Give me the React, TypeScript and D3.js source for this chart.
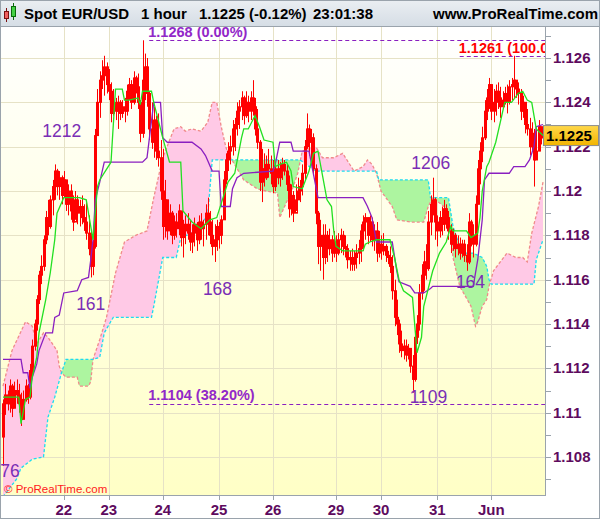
import * as d3 from "d3";

// hourly EUR/USD bars (open = previous close)
const firstOpen = 1.1089;
const highs = [
  1.1106, 1.1113, 1.111, 1.1115, 1.1113, 1.1114, 1.1115, 1.1113, 1.1109, 1.111,
  1.1115, 1.1113, 1.1122, 1.1133, 1.1142, 1.1153, 1.1164, 1.1171, 1.118, 1.1191,
  1.1196, 1.1198, 1.1205, 1.1212, 1.121, 1.1209, 1.1207, 1.1209, 1.1205, 1.1203,
  1.1203, 1.1198, 1.12, 1.1198, 1.1196, 1.1198, 1.1194, 1.1196, 1.1189, 1.1182,
  1.1178, 1.1228, 1.1246, 1.1254, 1.1259, 1.1261, 1.1258, 1.1255, 1.1249, 1.1246,
  1.1242, 1.1243, 1.1241, 1.1241, 1.1242, 1.1248, 1.1251, 1.125, 1.1254, 1.1252,
  1.1253, 1.1241, 1.1268, 1.1262, 1.126, 1.1245, 1.124, 1.1238, 1.1234, 1.1235,
  1.1223, 1.1219, 1.1205, 1.1196, 1.1194, 1.1191, 1.1189, 1.119, 1.1194, 1.1191,
  1.1187, 1.1189, 1.119, 1.1187, 1.1185, 1.1188, 1.1186, 1.1189, 1.119, 1.1187,
  1.1194, 1.1197, 1.1191, 1.1187, 1.1185, 1.1187, 1.1186, 1.1189, 1.1209, 1.1217,
  1.1222, 1.1225, 1.1232, 1.1233, 1.124, 1.1241, 1.1245, 1.1243, 1.1245, 1.1243,
  1.1245, 1.125, 1.1242, 1.1237, 1.1223, 1.1219, 1.1217, 1.1216, 1.1219, 1.1216,
  1.1214, 1.1212, 1.1214, 1.1213, 1.1215, 1.1214, 1.1212, 1.1207, 1.1203, 1.12,
  1.1203, 1.1206, 1.1205, 1.1212, 1.1223, 1.1235, 1.123, 1.1228, 1.1226, 1.1212,
  1.1191, 1.1187, 1.1185, 1.1185, 1.1182, 1.1183, 1.118, 1.1182, 1.118, 1.1181,
  1.1183, 1.1182, 1.118, 1.1176, 1.1173, 1.1174, 1.1173, 1.1176, 1.1178, 1.1185,
  1.1189, 1.119, 1.1187, 1.1189, 1.1188, 1.1185, 1.1186, 1.1182, 1.118, 1.1181,
  1.1176, 1.1173, 1.1175, 1.1171, 1.116, 1.1151, 1.1142, 1.1137, 1.1133, 1.1133,
  1.1131, 1.1128, 1.1126, 1.1137, 1.1144, 1.1158, 1.1167, 1.1173, 1.1176, 1.1191,
  1.1198, 1.1206, 1.1197, 1.1189, 1.1191, 1.1193, 1.1196, 1.1194, 1.1191, 1.1185,
  1.1183, 1.1181, 1.118, 1.1179, 1.1178, 1.1178, 1.1176, 1.119, 1.1187, 1.1185,
  1.1198, 1.1214, 1.1222, 1.1229, 1.1241, 1.1246, 1.1251, 1.1248, 1.1246, 1.1248,
  1.1249, 1.1247, 1.1245, 1.1247, 1.1248, 1.125, 1.1251, 1.1261, 1.125, 1.1249,
  1.1246, 1.1243, 1.124, 1.1237, 1.1233, 1.1231, 1.1228, 1.1228, 1.1232, 1.1229,
  1.1229,
];
const lows = [
  1.1076, 1.1099, 1.1101, 1.11, 1.1098, 1.1102, 1.1104, 1.11, 1.1094, 1.1097,
  1.1105, 1.1104, 1.1106, 1.1117, 1.1128, 1.1137, 1.1149, 1.1158, 1.1164, 1.1176,
  1.118, 1.1183, 1.1189, 1.1196, 1.1198, 1.1196, 1.1194, 1.1197, 1.1191, 1.1189,
  1.1187, 1.1182, 1.1187, 1.1185, 1.1184, 1.1185, 1.1182, 1.1178, 1.1171, 1.1161,
  1.1162, 1.1174, 1.1225, 1.1233, 1.1246, 1.1243, 1.1244, 1.1241, 1.1231, 1.1234,
  1.1232, 1.1228, 1.1232, 1.1233, 1.1231, 1.1234, 1.1241, 1.1237, 1.1239, 1.1244,
  1.1237, 1.1222, 1.1224, 1.1241, 1.1238, 1.1223, 1.1219, 1.1215, 1.1214, 1.1211,
  1.1196, 1.1178, 1.1179, 1.1178, 1.118, 1.1176, 1.1178, 1.1179, 1.118, 1.1175,
  1.117, 1.1176, 1.1178, 1.1173, 1.1172, 1.1175, 1.1173, 1.1176, 1.1178, 1.1175,
  1.1178, 1.118, 1.1176, 1.1171, 1.1168, 1.1173, 1.1174, 1.1176, 1.1187, 1.1203,
  1.1209, 1.1212, 1.1216, 1.1218, 1.1225, 1.1228, 1.1232, 1.123, 1.1233, 1.1231,
  1.1232, 1.1234, 1.1225, 1.1219, 1.12, 1.1195, 1.1202, 1.1205, 1.1206, 1.1203,
  1.1199, 1.12, 1.1203, 1.1202, 1.1205, 1.1207, 1.12, 1.1188, 1.1189, 1.1186,
  1.1191, 1.1196, 1.1195, 1.1198, 1.1205, 1.1219, 1.1216, 1.1214, 1.1207, 1.1185,
  1.1167, 1.1164, 1.116, 1.1167, 1.1168, 1.1171, 1.1168, 1.117, 1.1168, 1.1171,
  1.1172, 1.1171, 1.117, 1.1165, 1.1164, 1.1164, 1.1164, 1.1165, 1.1167, 1.1168,
  1.1173, 1.1178, 1.1176, 1.1177, 1.1175, 1.1173, 1.1168, 1.117, 1.1169, 1.1171,
  1.1168, 1.1167, 1.1163, 1.1151, 1.1139, 1.1135, 1.1127, 1.1125, 1.1124, 1.1123,
  1.1124, 1.1118, 1.1109, 1.1114, 1.1131, 1.1137, 1.1151, 1.1155, 1.116, 1.1164,
  1.118, 1.1189, 1.1178, 1.1175, 1.1179, 1.118, 1.1182, 1.1183, 1.1178, 1.1172,
  1.1173, 1.117, 1.1171, 1.1169, 1.117, 1.1168, 1.1164, 1.1167, 1.1175, 1.117,
  1.1175, 1.1194, 1.1203, 1.1213, 1.1223, 1.1232, 1.1237, 1.1232, 1.1231, 1.1234,
  1.1237, 1.1233, 1.1237, 1.1239, 1.1235, 1.1239, 1.1241, 1.1242, 1.1242, 1.1239,
  1.1232, 1.1233, 1.1226, 1.1225, 1.1216, 1.1218, 1.1202, 1.1214, 1.1218, 1.1221,
  1.1223,
];
const closes = [
  1.1104, 1.1108, 1.1104, 1.1112, 1.1102, 1.111, 1.1108, 1.1104, 1.1097, 1.1106,
  1.1112, 1.1107, 1.1119, 1.113, 1.114, 1.1151, 1.1162, 1.1166, 1.1178, 1.1188,
  1.1184, 1.1196, 1.1202, 1.1209, 1.1202, 1.1206, 1.1198, 1.1205, 1.1194, 1.12,
  1.1191, 1.1186, 1.1196, 1.119, 1.1193, 1.1188, 1.1186, 1.1181, 1.1174, 1.1166,
  1.1175, 1.1225, 1.124, 1.125, 1.1252, 1.1256, 1.1248, 1.1245, 1.1235, 1.124,
  1.1236, 1.124, 1.1235, 1.1238, 1.1236, 1.1245, 1.1248, 1.124, 1.1251, 1.1247,
  1.124, 1.1226, 1.125, 1.1256, 1.1244, 1.1228, 1.1222, 1.1232, 1.1218, 1.1215,
  1.12, 1.1184, 1.1196, 1.1182, 1.119, 1.118, 1.1186, 1.1183, 1.1191, 1.1179,
  1.1182, 1.1185, 1.1181, 1.1177, 1.1181, 1.1185, 1.1178, 1.1186, 1.1183, 1.1185,
  1.119, 1.1186, 1.118, 1.1175, 1.1178, 1.1184, 1.118, 1.1187, 1.1205, 1.1214,
  1.1218, 1.122, 1.1228, 1.123, 1.1236, 1.1238, 1.1242, 1.1234, 1.124, 1.1236,
  1.1242, 1.1238, 1.1228, 1.1222, 1.1204, 1.121, 1.1206, 1.1212, 1.121, 1.1208,
  1.1202, 1.121, 1.1206, 1.121, 1.1212, 1.1209, 1.1203, 1.1192, 1.1198, 1.119,
  1.1196, 1.12, 1.1202, 1.1208, 1.122, 1.1228, 1.1222, 1.1224, 1.121, 1.119,
  1.1175, 1.118, 1.117, 1.118, 1.1174, 1.1178, 1.1172, 1.1176, 1.1172, 1.1178,
  1.118, 1.1175, 1.1174, 1.1169, 1.117, 1.1167, 1.117, 1.1172, 1.1174, 1.1182,
  1.1186, 1.1188, 1.118, 1.1186, 1.1178, 1.1182, 1.1172, 1.1176, 1.1173, 1.1175,
  1.1171, 1.117, 1.1166, 1.1155, 1.1143, 1.114, 1.1131, 1.1128, 1.113, 1.1126,
  1.1129, 1.1121, 1.1115, 1.1134, 1.114, 1.1154, 1.1162, 1.1168, 1.1165, 1.1186,
  1.1194, 1.1196, 1.1186, 1.1182, 1.1188, 1.1185, 1.1192, 1.1188, 1.1182, 1.1176,
  1.118, 1.1174, 1.1176, 1.1172, 1.1176, 1.1171, 1.1168, 1.1186, 1.118, 1.1176,
  1.1194, 1.121, 1.1218, 1.1224, 1.1236, 1.1242, 1.1248, 1.1236, 1.124, 1.1245,
  1.1242, 1.1238, 1.1241, 1.1244, 1.124, 1.1247, 1.1248, 1.125, 1.1246, 1.1244,
  1.1236, 1.124, 1.123, 1.1228, 1.122, 1.1226, 1.1214, 1.1218, 1.1229, 1.1224,
  1.1225,
];

// Ichimoku lines as [bar, price] breakpoints
const tenkan: [number, number][] = [
  [0, 1.1107], [7, 1.1107], [8, 1.1095], [10, 1.1106], [12, 1.1107], [13, 1.1116], [15, 1.1125],
  [16, 1.1136], [19, 1.1151], [21, 1.1163], [23, 1.1178], [24, 1.119], [27, 1.1197], [34, 1.1197],
  [37, 1.1196], [39, 1.1184], [40, 1.1178], [42, 1.1202], [43, 1.1205], [48, 1.1213], [50, 1.1246],
  [53, 1.1246], [54, 1.1241], [56, 1.1241], [60, 1.1242], [61, 1.1239], [62, 1.1245], [66, 1.1245],
  [67, 1.124], [71, 1.1224], [74, 1.1213], [79, 1.1213], [80, 1.1191], [84, 1.1186], [88, 1.1183],
  [92, 1.1187], [95, 1.1188], [100, 1.1204], [103, 1.1208], [106, 1.1224], [107, 1.1228],
  [109, 1.1228], [112, 1.1234], [114, 1.1229], [116, 1.1223], [120, 1.1222], [121, 1.1211],
  [123, 1.1212], [126, 1.1213], [128, 1.1209], [129, 1.1202], [133, 1.1201], [136, 1.1209],
  [138, 1.1217], [140, 1.1218], [144, 1.1196], [146, 1.1193], [147, 1.1182], [148, 1.1175],
  [151, 1.1173], [160, 1.1173], [161, 1.1176], [163, 1.1177], [166, 1.1178], [172, 1.1178],
  [174, 1.117], [176, 1.116], [178, 1.1155], [182, 1.1152], [184, 1.1127], [186, 1.1134],
  [187, 1.1148], [191, 1.1164], [194, 1.1172], [197, 1.1177], [199, 1.1184], [200, 1.1182],
  [206, 1.1182], [208, 1.1179], [211, 1.1181], [212, 1.1188], [213, 1.12], [215, 1.1211],
  [216, 1.1213], [219, 1.1222], [221, 1.1231], [223, 1.124], [226, 1.124], [229, 1.1244],
  [231, 1.1245], [233, 1.1241], [235, 1.124], [237, 1.1228], [240, 1.1225],
];
const kijun: [number, number][] = [
  [0, 1.1124], [8, 1.1124], [9, 1.1118], [11, 1.1118], [12, 1.1111], [13, 1.1116], [15, 1.1122],
  [16, 1.1128], [19, 1.1136], [22, 1.1136], [23, 1.1143], [25, 1.1144], [27, 1.1154], [33, 1.1155],
  [35, 1.116], [38, 1.1161], [39, 1.1169], [40, 1.1178], [41, 1.1196], [43, 1.1204], [45, 1.1213],
  [62, 1.1213], [64, 1.1215], [67, 1.124], [70, 1.124], [71, 1.1224], [73, 1.1222], [84, 1.1222],
  [88, 1.1219], [90, 1.1216], [93, 1.1209], [96, 1.1209], [97, 1.1193], [101, 1.1193],
  [102, 1.1201], [104, 1.1206], [107, 1.1208], [120, 1.1209], [121, 1.1212], [123, 1.1222],
  [128, 1.1222], [129, 1.1218], [136, 1.1218], [140, 1.1197], [160, 1.1197], [162, 1.1193],
  [164, 1.1188], [166, 1.1177], [173, 1.1177], [175, 1.1164], [176, 1.1159], [181, 1.1157],
  [183, 1.1154], [187, 1.1154], [190, 1.1156], [191, 1.1157], [209, 1.1157], [211, 1.1169],
  [213, 1.1187], [214, 1.1205], [216, 1.1208], [225, 1.1208], [227, 1.1211], [232, 1.1211],
  [234, 1.1214], [236, 1.122], [237, 1.1229], [240, 1.123],
];
const spanA: [number, number][] = [
  [0, 1.1112], [4, 1.1128], [10, 1.1141], [13, 1.1139], [15, 1.1131], [18, 1.1136], [20, 1.1134],
  [24, 1.1128], [25, 1.1121], [26, 1.1118], [28, 1.1116], [33, 1.1116], [34, 1.1112], [38, 1.1112],
  [39, 1.1114], [40, 1.1124], [43, 1.1133], [46, 1.1143], [50, 1.1163], [54, 1.1177], [59, 1.118],
  [64, 1.1182], [67, 1.1197], [71, 1.1215], [76, 1.1228], [79, 1.1229], [81, 1.1227], [84, 1.1228],
  [88, 1.1227], [91, 1.1231], [93, 1.124], [95, 1.124], [97, 1.1229], [99, 1.122], [100, 1.1217],
  [107, 1.1205], [113, 1.1201], [117, 1.12], [122, 1.1199], [123, 1.1188], [126, 1.1195],
  [128, 1.1199], [131, 1.1208], [133, 1.1218], [139, 1.122], [142, 1.1215], [147, 1.1215],
  [151, 1.1217], [156, 1.1209], [160, 1.1211], [162, 1.1214], [164, 1.1212], [166, 1.1208],
  [168, 1.12], [173, 1.1193], [175, 1.1187], [181, 1.1186], [187, 1.1186], [189, 1.1193],
  [191, 1.1197], [196, 1.1193], [199, 1.1182], [200, 1.117], [203, 1.1157], [208, 1.1148],
  [210, 1.1139], [211, 1.1141], [213, 1.1148], [215, 1.1151], [216, 1.1157], [218, 1.1164],
  [224, 1.1172], [228, 1.117], [231, 1.117], [233, 1.1168], [235, 1.1181], [238, 1.1193],
  [240, 1.1204],
];
const spanB: [number, number][] = [
  [0, 1.1062], [6, 1.107], [8, 1.1075], [13, 1.1079], [18, 1.108], [20, 1.1098], [23, 1.1107],
  [26, 1.1118], [28, 1.1124], [40, 1.1124], [43, 1.1125], [45, 1.1136], [49, 1.1143], [66, 1.1143],
  [67, 1.1148], [71, 1.117], [77, 1.117], [79, 1.1179], [84, 1.1181], [88, 1.1185], [91, 1.1189],
  [93, 1.1214], [132, 1.1214], [139, 1.1209], [166, 1.1209], [167, 1.1205], [189, 1.1205],
  [190, 1.1197], [198, 1.1197], [200, 1.1184], [202, 1.1178], [204, 1.1172], [209, 1.1172],
  [213, 1.117], [215, 1.1166], [216, 1.116], [217, 1.1158], [236, 1.1158], [237, 1.1169],
  [239, 1.1175], [240, 1.1178],
];

const dayLabels = ["22", "23", "24", "25", "26", "29", "30", "31", "Jun"];
const dayBars = [27, 47, 71, 96, 120, 148, 168, 193, 217];

const priceTicks = [1.108, 1.11, 1.112, 1.114, 1.116, 1.118, 1.12, 1.122, 1.124, 1.126];
const priceTickLabels = ["1.108", "1.11", "1.112", "1.114", "1.116", "1.118", "1.12", "1.122", "1.124", "1.126"];
const minorTicks = [1.107, 1.109, 1.111, 1.113, 1.115, 1.117, 1.119, 1.121, 1.123, 1.125, 1.127];

const fibPrices = [1.1268, 1.1261, 1.1104];
const fibLabels = ["1.1268 (0.00%)", "1.1261 (100.00%)", "1.1104 (38.20%)"];
const fibStartBars = [65, 203, 65];

const swingLabels = ["76", "1212", "161", "168", "1206", "164", "1109"];
const swingBars = [0, 23, 39, 94, 191, 206, 182];
const swingPrices = [1.1076, 1.1212, 1.1161, 1.1168, 1.1206, 1.1164, 1.1109];

const FONT = "'Liberation Sans', Arial, sans-serif";
const AXIS = "#5e0b5e";
const RED = "#ff0000";

export default function App() {
  const W = 600;
  const H = 519;
  const plot = { left: 1, right: 545, top: 27, bottom: 495 };
  const x = d3.scaleLinear().domain([0, 240]).range([3, 543]);
  const y = d3.scaleLinear().domain([1.108, 1.126]).range([457, 58]);
  const opens = closes.map((c, i) => (i === 0 ? firstOpen : closes[i - 1]));

  const line = d3
    .line<[number, number]>()
    .x((d) => x(d[0]))
    .y((d) => y(d[1]));
  const below = d3
    .area<[number, number]>()
    .x((d) => x(d[0]))
    .y0(plot.bottom + 20)
    .y1((d) => y(d[1]));
  const above = d3
    .area<[number, number]>()
    .x((d) => x(d[0]))
    .y0(plot.top - 20)
    .y1((d) => y(d[1]));

  // label offsets from each swing point (layout only)
  const swingDx = [7, 7, 0, 3, -2, 4, 16];
  const swingDy = [11, -27, 33, 33, -9, 17, 10];
  const fibColors = ["#9228c8", RED, "#9228c8"];
  const fibDy = [-3, -3, -4];

  const last = closes[closes.length - 1];

  return (
    <svg
      width={W}
      height={H}
      viewBox={`0 0 ${W} ${H}`}
      style={{ position: "absolute", left: 0, top: 0, background: "#fff" }}
      fontFamily={FONT}
    >
      <defs>
        <linearGradient id="bg" x1="0" y1="0" x2="0" y2="1">
          <stop offset="0%" stopColor="#ffffff" />
          <stop offset="100%" stopColor="#ffffc6" />
        </linearGradient>
        <linearGradient id="hdr" x1="0" y1="0" x2="0" y2="1">
          <stop offset="0%" stopColor="#eaeef2" />
          <stop offset="100%" stopColor="#d5dde5" />
        </linearGradient>
        <linearGradient id="gold" x1="0" y1="0" x2="0" y2="1">
          <stop offset="0%" stopColor="#ffd84a" />
          <stop offset="100%" stopColor="#f2b400" />
        </linearGradient>
        <clipPath id="plotClip">
          <rect x={plot.left} y={plot.top} width={plot.right - plot.left} height={plot.bottom - plot.top} />
        </clipPath>
        <clipPath id="aboveB">
          <path d={above(spanB) ?? ""} />
        </clipPath>
        <clipPath id="aboveA">
          <path d={above(spanA) ?? ""} />
        </clipPath>
      </defs>

      <rect x={plot.left} y={plot.top} width={plot.right - plot.left} height={plot.bottom - plot.top} fill="url(#bg)" />

      <g clipPath="url(#plotClip)">
        {priceTicks.map((t) => (
          <line key={t} x1={plot.left} x2={plot.right} y1={Math.round(y(t)) + 0.5} y2={Math.round(y(t)) + 0.5} stroke="#e6e2c6" />
        ))}
        {dayBars.map((b) => (
          <line key={b} x1={Math.round(x(b)) + 0.5} x2={Math.round(x(b)) + 0.5} y1={plot.top} y2={plot.bottom} stroke="#e6e2c6" />
        ))}

        <g>
          <path d={below(spanA) ?? ""} fill="#ffc9e6" clipPath="url(#aboveB)" />
        </g>
        <g>
          <path d={below(spanB) ?? ""} fill="#adf5a0" clipPath="url(#aboveA)" />
        </g>
        <path d={line(spanA) ?? ""} fill="none" stroke="#f08a8a" strokeWidth={1.3} strokeDasharray="3 2" />
        <path d={line(spanB) ?? ""} fill="none" stroke="#1cdcf0" strokeWidth={1.3} strokeDasharray="3 2" />

        {fibPrices.map((p, k) => (
          <g key={p}>
            <line
              x1={x(fibStartBars[k])}
              x2={plot.right}
              y1={Math.round(y(p)) + 0.5}
              y2={Math.round(y(p)) + 0.5}
              stroke="#8a1fc0"
              strokeDasharray="4 3"
            />
            <text x={x(fibStartBars[k]) - 1} y={y(p) + fibDy[k]} fontSize={14.5} fontWeight="bold" fill={fibColors[k]}>
              {fibLabels[k]}
            </text>
          </g>
        ))}

        {closes.map((c, i) => {
          const cx = Math.round(x(i));
          const o = opens[i];
          const top = y(Math.max(o, c));
          const bot = y(Math.min(o, c));
          const up = c >= o;
          return (
            <g key={i}>
              <line x1={cx + 0.5} x2={cx + 0.5} y1={y(highs[i])} y2={y(lows[i])} stroke={RED} />
              <rect
                x={cx - 0.5}
                y={top}
                width={2}
                height={Math.max(bot - top, 1)}
                fill={up ? "none" : RED}
                stroke={RED}
                strokeWidth={1}
              />
            </g>
          );
        })}

        <path d={line(kijun) ?? ""} fill="none" stroke="#8a1fc0" strokeWidth={1.3} />
        <path d={line(tenkan) ?? ""} fill="none" stroke="#22e022" strokeWidth={1.3} />

        {swingLabels.map((s, k) => (
          <text
            key={s}
            x={x(swingBars[k]) + swingDx[k]}
            y={y(swingPrices[k]) + swingDy[k]}
            textAnchor="middle"
            fontSize={17.5}
            fill="#7a2eb5"
          >
            {s}
          </text>
        ))}

        <text x={4} y={493} fontSize={11.5} fill="#ff2020">
          © ProRealTime.com
        </text>
      </g>

      {/* frame */}
      <line x1={0.5} x2={0.5} y1={plot.top} y2={plot.bottom} stroke="#9aa3ac" />
      <line x1={plot.right + 0.5} x2={plot.right + 0.5} y1={plot.top} y2={plot.bottom + 1} stroke="#9aa3ac" />
      <line x1={0} x2={plot.right + 1} y1={plot.bottom + 0.5} y2={plot.bottom + 0.5} stroke="#9aa3ac" />
      <rect x={0.5} y={0.5} width={W - 1} height={H - 1} fill="none" stroke="#9aa3ac" />

      {/* right price axis */}
      {minorTicks.concat(priceTicks).map((t) =>
        y(t) > plot.top && y(t) < plot.bottom ? (
          <line key={t} x1={plot.right + 1} x2={plot.right + 6} y1={Math.round(y(t)) + 0.5} y2={Math.round(y(t)) + 0.5} stroke="#9aa3ac" />
        ) : null
      )}
      {priceTicks.map((t, k) => (
        <text key={t} x={553} y={y(t) + 5} fontSize={15} fontWeight="bold" fill={AXIS}>
          {priceTickLabels[k]}
        </text>
      ))}

      {/* bottom date axis */}
      {dayBars.map((b, k) => (
        <g key={b}>
          <line x1={Math.round(x(b)) + 0.5} x2={Math.round(x(b)) + 0.5} y1={plot.bottom} y2={plot.bottom + 5} stroke="#9aa3ac" />
          <text x={x(b)} y={515} textAnchor="middle" fontSize={15} fontWeight="bold" fill={AXIS}>
            {dayLabels[k]}
          </text>
        </g>
      ))}

      {/* last price box */}
      <rect x={543.5} y={y(last) - 10} width={55} height={20} fill="url(#gold)" stroke="#8c8c8c" />
      <text x={546} y={y(last) + 5.5} fontSize={15} fontWeight="bold" fill="#000">
        {last.toFixed(4)}
      </text>

      {/* header */}
      <rect x={0.5} y={0.5} width={W - 1} height={26} fill="url(#hdr)" stroke="#9aa3ac" />
      <line x1={6.5} x2={6.5} y1={8} y2={22} stroke="#7a1010" />
      <rect x={4.5} y={11.5} width={4} height={7} fill="#f06060" stroke="#7a1010" />
      <line x1={13.5} x2={13.5} y1={3} y2={20} stroke="#0a6a0a" />
      <rect x={11.5} y={6.5} width={4} height={10} fill="#44d044" stroke="#0a6a0a" />
      <g fontSize={15} fontWeight="bold" fill="#000">
        <text x={24} y={19}>Spot EUR/USD</text>
        <text x={141} y={19}>1 hour</text>
        <text x={199} y={19}>1.1225 (-0.12%)</text>
        <text x={313} y={19}>23:01:38</text>
        <text x={433} y={19}>www.ProRealTime.com</text>
      </g>
    </svg>
  );
}
